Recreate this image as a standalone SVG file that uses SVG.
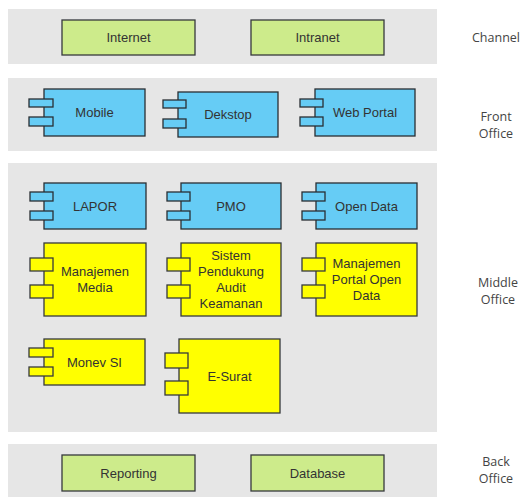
<svg xmlns="http://www.w3.org/2000/svg" width="526" height="497" viewBox="0 0 526 497">
<style>
.band{fill:#e6e6e6}
.g{fill:#cdeb8b;stroke:#36393d;stroke-width:1.3}
.b{fill:#66ccf5;stroke:#2a2f33;stroke-width:1.3}
.y{fill:#ffff00;stroke:#36393d;stroke-width:1.3}
.t{font-family:"Liberation Sans",Arial,sans-serif;font-size:13px;fill:#333;text-anchor:middle}
.l{font-family:"Open Sans","Noto Sans",sans-serif;font-size:12.5px;fill:#444;text-anchor:middle}
</style>
<rect width="526" height="497" fill="#ffffff"/>
<g id="bands">
<rect class="band" x="8" y="9" width="429" height="55"/>
<rect class="band" x="8" y="78" width="429" height="73"/>
<rect class="band" x="8" y="163" width="429" height="269"/>
<rect class="band" x="8" y="444" width="429" height="53"/>
</g>
<g id="labels">
<text class="l" x="496" y="42">Channel</text>
<text class="l" x="496" y="121">Front</text>
<text class="l" x="496" y="138">Office</text>
<text class="l" x="498" y="287">Middle</text>
<text class="l" x="498" y="304">Office</text>
<text class="l" x="496" y="466">Back</text>
<text class="l" x="496" y="483">Office</text>
</g>
<g id="internet"><rect class="g" x="62" y="20" width="133" height="35"/><text class="t" x="128.5" y="42">Internet</text></g>
<g id="intranet"><rect class="g" x="251" y="20" width="133" height="35"/><text class="t" x="317.5" y="42">Intranet</text></g>
<g id="mobile"><rect class="b" x="44" y="89" width="101" height="47"/><rect class="b" x="29" y="99" width="24" height="8"/><rect class="b" x="29" y="117" width="24" height="9"/><text class="t" x="94.5" y="117">Mobile</text></g>
<g id="dekstop"><rect class="b" x="178" y="92" width="100" height="45"/><rect class="b" x="163" y="100" width="23" height="8"/><rect class="b" x="163" y="119" width="23" height="9"/><text class="t" x="228" y="119">Dekstop</text></g>
<g id="webportal"><rect class="b" x="315" y="89" width="100" height="47"/><rect class="b" x="300" y="99" width="23" height="8"/><rect class="b" x="300" y="117" width="23" height="9"/><text class="t" x="365" y="117">Web Portal</text></g>
<g id="lapor"><rect class="b" x="44" y="183" width="102" height="46"/><rect class="b" x="30" y="192" width="23" height="9"/><rect class="b" x="30" y="211" width="23" height="9"/><text class="t" x="95" y="211">LAPOR</text></g>
<g id="pmo"><rect class="b" x="181" y="183" width="100" height="46"/><rect class="b" x="167" y="192" width="23" height="9"/><rect class="b" x="167" y="211" width="23" height="9"/><text class="t" x="231" y="211">PMO</text></g>
<g id="opendata"><rect class="b" x="316" y="183" width="101" height="46"/><rect class="b" x="302" y="192" width="23" height="9"/><rect class="b" x="302" y="211" width="23" height="9"/><text class="t" x="366.5" y="211">Open Data</text></g>
<g id="manajemenmedia"><rect class="y" x="44" y="243" width="102" height="73"/><rect class="y" x="30" y="258" width="23" height="13"/><rect class="y" x="30" y="285" width="23" height="13"/><text class="t" x="95" y="276">Manajemen</text><text class="t" x="95" y="292">Media</text></g>
<g id="sistem"><rect class="y" x="181" y="243" width="100" height="73"/><rect class="y" x="167" y="258" width="23" height="13"/><rect class="y" x="167" y="285" width="23" height="13"/><text class="t" x="231" y="260">Sistem</text><text class="t" x="231" y="276">Pendukung</text><text class="t" x="231" y="292">Audit</text><text class="t" x="231" y="308">Keamanan</text></g>
<g id="manajemenportal"><rect class="y" x="316" y="243" width="101" height="73"/><rect class="y" x="302" y="258" width="23" height="13"/><rect class="y" x="302" y="285" width="23" height="13"/><text class="t" x="366.5" y="268">Manajemen</text><text class="t" x="366.5" y="284">Portal Open</text><text class="t" x="366.5" y="300">Data</text></g>
<g id="monevsi"><rect class="y" x="44" y="339" width="101" height="46"/><rect class="y" x="29" y="348" width="24" height="9"/><rect class="y" x="29" y="367" width="24" height="9"/><text class="t" x="94.5" y="367">Monev SI</text></g>
<g id="esurat"><rect class="y" x="179" y="339" width="101" height="74"/><rect class="y" x="165" y="353" width="23" height="15"/><rect class="y" x="165" y="381" width="23" height="14"/><text class="t" x="229.5" y="381">E-Surat</text></g>
<g id="reporting"><rect class="g" x="62" y="455" width="133" height="36"/><text class="t" x="128.5" y="478">Reporting</text></g>
<g id="database"><rect class="g" x="251" y="455" width="133" height="36"/><text class="t" x="317.5" y="478">Database</text></g>
<g id="connectors"/>
</svg>
